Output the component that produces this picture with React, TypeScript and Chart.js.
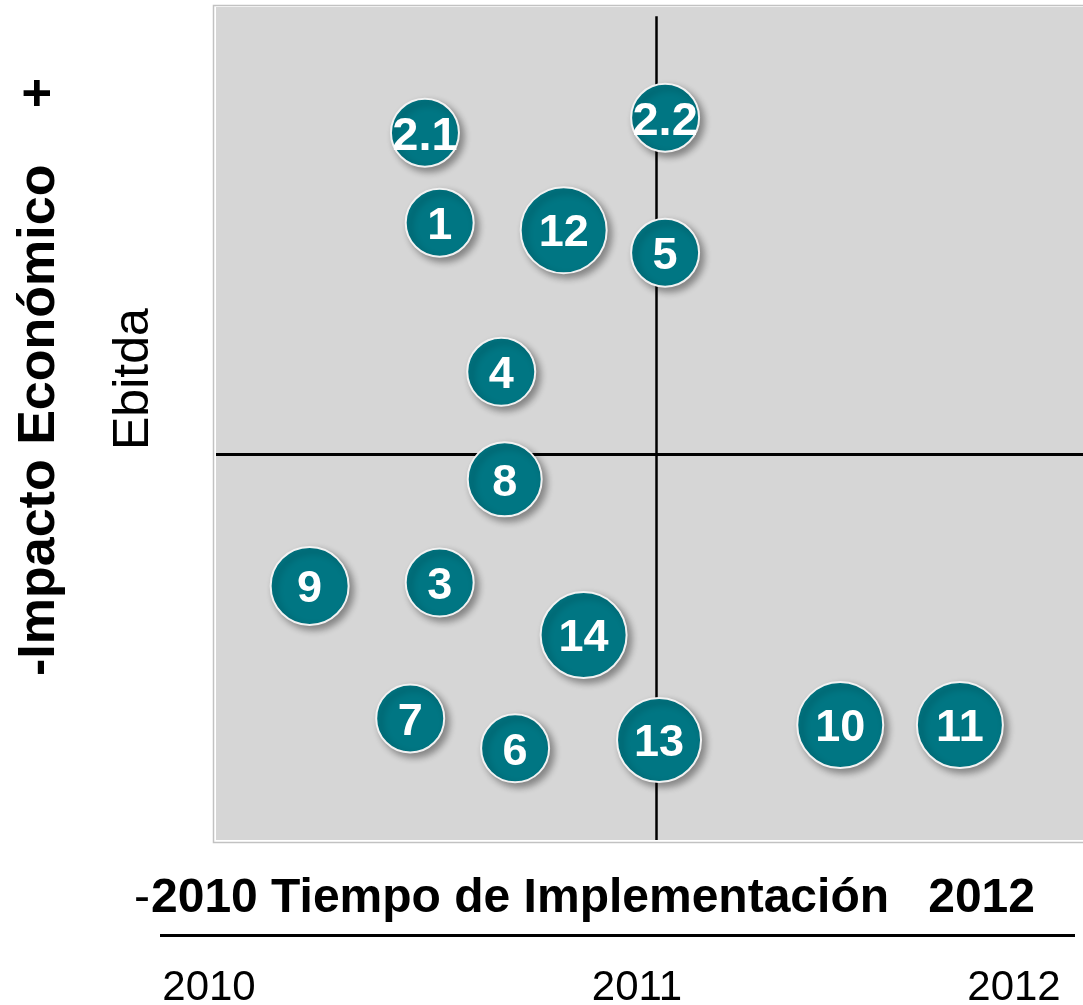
import React, { useEffect, useRef } from "react";
import { Chart, registerables } from "chart.js";

Chart.register(...registerables);

// Project labels, x = implementation time (0-100 across the period), y = economic impact (0-100)
const projectLabels = ["2.1", "2.2", "1", "12", "5", "4", "8", "9", "3", "14", "7", "6", "13", "10", "11"];
const timeValues = [24.1, 51.8, 25.8, 40.1, 51.8, 32.9, 33.3, 10.8, 25.8, 42.4, 22.4, 34.5, 51.1, 72.0, 85.8];
const impactValues = [84.9, 86.7, 74.1, 73.2, 70.5, 56.2, 43.3, 30.5, 30.9, 24.6, 14.6, 11.0, 12.0, 13.8, 13.8];
const bubbleSizes = [34, 34, 34, 43, 34, 34, 37, 39, 34, 43, 34, 34, 42, 43, 43];

const quadrantX = 50.8;
const quadrantY = 46.3;
const quadrantTop = 98.9;

const tickLabels = ["2010", "2011", "2012"];
const xTitleMain = "2010 Tiempo de Implementación";
const xTitleEnd = "2012";
const yTitleMain = "-Impacto Económico";
const yTitleEnd = "+";
const ySubTitle = "Ebitda";

const FONT = '"Liberation Sans", Arial, Helvetica, sans-serif';
const TEAL = "#007683";

export default function App() {
  const canvasRef = useRef<HTMLCanvasElement | null>(null);

  useEffect(() => {
    const canvas = canvasRef.current;
    if (!canvas) return;

    const decorPlugin = {
      id: "decor",
      beforeDraw(chart: any) {
        const ctx = chart.ctx;
        const a = chart.chartArea;
        ctx.save();
        ctx.fillStyle = "#ffffff";
        ctx.fillRect(0, 0, chart.width, chart.height);
        // frame
        ctx.strokeStyle = "#c2c2c2";
        ctx.lineWidth = 1.5;
        ctx.strokeRect(a.left - 2.5, a.top - 1.5, a.right - a.left + 10, a.bottom - a.top + 4);
        ctx.fillStyle = "#d6d6d6";
        ctx.fillRect(a.left, a.top, a.right - a.left, a.bottom - a.top);
        ctx.restore();
      },
      beforeDatasetsDraw(chart: any) {
        const ctx = chart.ctx;
        const xs = chart.scales.x;
        const ys = chart.scales.y;
        ctx.save();
        ctx.strokeStyle = "#000000";
        ctx.lineWidth = 2.5;
        ctx.beginPath();
        const vx = Math.round(xs.getPixelForValue(quadrantX)) + 0.5;
        ctx.moveTo(vx, ys.getPixelForValue(quadrantTop));
        ctx.lineTo(vx, ys.getPixelForValue(0));
        ctx.stroke();
        ctx.lineWidth = 3;
        ctx.beginPath();
        const hy = Math.round(ys.getPixelForValue(quadrantY)) + 0.5;
        ctx.moveTo(xs.getPixelForValue(0), hy);
        ctx.lineTo(xs.getPixelForValue(100), hy);
        ctx.stroke();
        ctx.restore();
      },
      beforeDatasetDraw(chart: any) {
        const ctx = chart.ctx;
        ctx.save();
        ctx.shadowColor = "rgba(0,0,0,0.38)";
        ctx.shadowBlur = 7;
        ctx.shadowOffsetX = 4;
        ctx.shadowOffsetY = 4;
      },
      afterDatasetDraw(chart: any) {
        chart.ctx.restore();
      },
      afterDatasetsDraw(chart: any) {
        const ctx = chart.ctx;
        const meta = chart.getDatasetMeta(0);
        ctx.save();
        ctx.fillStyle = "#ffffff";
        ctx.textAlign = "center";
        ctx.textBaseline = "alphabetic";
        meta.data.forEach((el: any, i: number) => {
          const size = projectLabels[i].includes(".") ? 47 : 45;
          ctx.font = `bold ${size}px ${FONT}`;
          ctx.fillText(projectLabels[i], el.x, el.y + size * 0.36);
        });
        ctx.restore();
      },
      afterDraw(chart: any) {
        const ctx = chart.ctx;
        ctx.save();
        ctx.fillStyle = "#000000";
        ctx.textBaseline = "alphabetic";
        // x title
        ctx.textAlign = "left";
        ctx.font = `48px ${FONT}`;
        ctx.fillText("-", 134, 912);
        ctx.font = `bold 48px ${FONT}`;
        ctx.fillText(xTitleMain, 151, 912);
        ctx.textAlign = "right";
        ctx.fillText(xTitleEnd, 1035, 912);
        // axis rule
        ctx.strokeStyle = "#000000";
        ctx.lineWidth = 3;
        ctx.beginPath();
        ctx.moveTo(160, 935.5);
        ctx.lineTo(1075, 935.5);
        ctx.stroke();
        // tick labels
        ctx.font = `42px ${FONT}`;
        ctx.textAlign = "center";
        const tickPos = [209, 637, 1014];
        tickLabels.forEach((t, i) => ctx.fillText(t, tickPos[i], 1000));
        // y titles (rotated)
        ctx.save();
        ctx.translate(54, 676);
        ctx.rotate(-Math.PI / 2);
        ctx.font = `bold 52px ${FONT}`;
        ctx.textAlign = "left";
        ctx.fillText(yTitleMain, 0, 0);
        ctx.restore();
        ctx.save();
        ctx.translate(54, 78);
        ctx.rotate(-Math.PI / 2);
        ctx.font = `bold 52px ${FONT}`;
        ctx.textAlign = "right";
        ctx.fillText(yTitleEnd, 0, 0);
        ctx.restore();
        ctx.save();
        ctx.translate(148, 450);
        ctx.rotate(-Math.PI / 2);
        ctx.font = `50px ${FONT}`;
        ctx.textAlign = "left";
        ctx.fillText(ySubTitle, 0, 0);
        ctx.restore();
        ctx.restore();
      },
    };

    const chart = new Chart(canvas, {
      type: "bubble",
      data: {
        datasets: [
          {
            data: timeValues.map((x, i) => ({ x, y: impactValues[i], r: bubbleSizes[i] })),
            backgroundColor: TEAL,
            borderColor: "#f2f2f2",
            borderWidth: 2,
            hoverRadius: 0,
            clip: false as any,
          },
        ],
      },
      options: {
        responsive: false,
        animation: false,
        devicePixelRatio: 1,
        layout: { autoPadding: false, padding: { left: 216, right: 0, top: 7, bottom: 165 } },
        scales: {
          x: { type: "linear", min: 0, max: 100, display: false },
          y: { type: "linear", min: 0, max: 100, display: false },
        },
        plugins: {
          legend: { display: false },
          tooltip: { enabled: false },
        },
        events: [],
      },
      plugins: [decorPlugin],
    });

    return () => chart.destroy();
  }, []);

  return (
    <div style={{ position: "absolute", left: 0, top: 0, width: 1083, height: 1005, background: "#fff" }}>
      <canvas ref={canvasRef} width={1083} height={1005} style={{ display: "block", width: 1083, height: 1005 }} />
    </div>
  );
}
